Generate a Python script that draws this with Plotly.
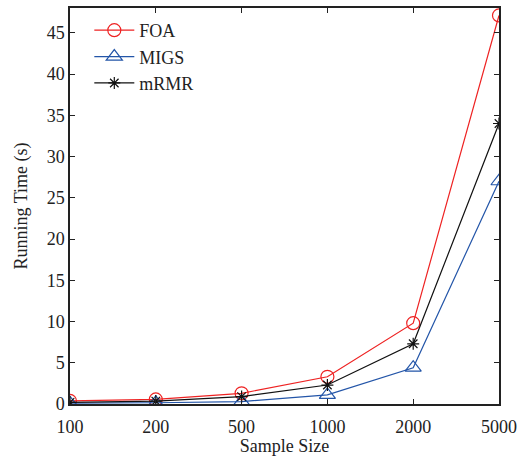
import plotly.graph_objects as go

sample_sizes = ["100", "200", "500", "1000", "2000", "5000"]
foa = [0.37, 0.55, 1.3, 3.3, 9.8, 47.1]
migs = [0.1, 0.15, 0.3, 1.1, 4.4, 27.0]
mrmr = [0.2, 0.35, 0.9, 2.3, 7.3, 34.0]

x_idx = list(range(len(sample_sizes)))
font = "Liberation Serif, Times New Roman, serif"

fig = go.Figure()
fig.add_trace(go.Scatter(x=x_idx, y=foa, name="FOA", mode="lines+markers",
                         line=dict(color="#ee2222", width=1.2),
                         marker=dict(symbol="circle-open", size=13, color="#ee2222", line=dict(width=1.2))))
fig.add_trace(go.Scatter(x=x_idx, y=migs, name="MIGS", mode="lines+markers",
                         line=dict(color="#2355a8", width=1.2),
                         marker=dict(symbol="triangle-up-open", size=14, color="#2355a8", line=dict(width=1.2))))
fig.add_trace(go.Scatter(x=x_idx, y=mrmr, name="mRMR", mode="lines+markers",
                         line=dict(color="#111111", width=1.2),
                         marker=dict(symbol="asterisk-open", size=10, color="#111111", line=dict(width=1.2))))

axis_common = dict(showline=True, linecolor="#222222", linewidth=1.5, mirror="ticks",
                   ticks="inside", ticklen=5, tickcolor="#222222", showgrid=False, zeroline=False,
                   automargin=False,
                   tickfont=dict(family=font, size=18, color="#222222"))

fig.update_xaxes(range=[0, 5], tickvals=x_idx, ticktext=sample_sizes, ticklabelstandoff=6,
                 title=dict(text="Sample Size", font=dict(family=font, size=18, color="#222222"), standoff=4),
                 **axis_common)
fig.update_yaxes(range=[0, 48], tickvals=list(range(0, 50, 5)),
                 title=dict(text="Running Time (s)", font=dict(family=font, size=18, color="#222222"), standoff=14),
                 **axis_common)

fig.update_layout(
    width=527, height=456,
    margin=dict(l=70, r=28, t=8, b=52),
    plot_bgcolor="white", paper_bgcolor="white",
    showlegend=True,
    legend=dict(x=0.045, y=0.99, xanchor="left", yanchor="top",
                bgcolor="rgba(0,0,0,0)", font=dict(family=font, size=18, color="#222222"),
                tracegroupgap=0, itemwidth=40),
)

fig.write_html("out.html", config={"displayModeBar": False})
with open("out.html", encoding="utf-8") as f:
    html = f.read()
html = html.replace("<body>", '<body style="margin:0;padding:0;overflow:hidden">', 1)
with open("out.html", "w", encoding="utf-8") as f:
    f.write(html)
